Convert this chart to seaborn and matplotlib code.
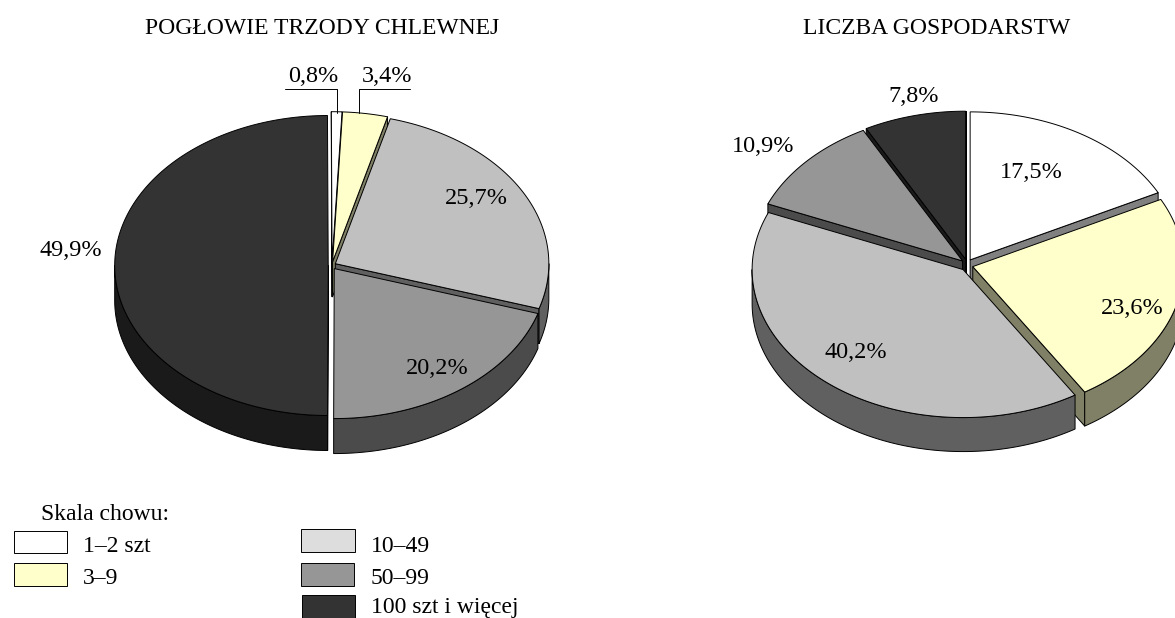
import numpy as np
import seaborn as sns
import matplotlib.pyplot as plt
from matplotlib.patches import Polygon, Rectangle

# data
scale_labels = ["1–2 szt", "3–9", "10–49", "50–99", "100 szt i więcej"]
herd_share = [0.8, 3.4, 25.7, 20.2, 49.9]
farm_share = [17.5, 23.6, 40.2, 10.9, 7.8]
herd_title = "POGŁOWIE TRZODY CHLEWNEJ"
farm_title = "LICZBA GOSPODARSTW"
legend_title = "Skala chowu:"

top_colors = ["#ffffff", "#ffffcc", "#c0c0c0", "#969696", "#333333"]
side_colors = ["#808080", "#808066", "#606060", "#4b4b4b", "#1a1a1a"]
legend_colors = ["#ffffff", "#ffffcc", "#dddddd", "#969696", "#333333"]

sns.set_theme(style="white")
plt.rcParams["font.family"] = ["Liberation Serif", "DejaVu Serif"]
FONT = 17
LABEL_FONT = 17.5


def pie_3d(ax, values, cx, cy, rx, ry, depth, explode, start=0.0):
    edges = np.cumsum([0] + list(values)) / sum(values) * 2 * np.pi + np.radians(start)
    mids = (edges[:-1] + edges[1:]) / 2
    # back slices first, so the front ones paint over their walls
    order = np.argsort(-np.cos(mids))
    for i in order:
        a0, a1 = edges[i], edges[i + 1]
        ox = cx + explode * np.sin(mids[i])
        oy = cy - explode * np.cos(mids[i])

        def point(a):
            return ox + rx * np.sin(a), oy - ry * np.cos(a)

        def wall(a):
            x, y = point(a)
            return [(ox, oy), (x, y), (x, y + depth), (ox, oy + depth)]

        style = dict(ec="black", lw=0.7, fc=side_colors[i], joinstyle="round")
        if np.sin(a0) < 0:
            ax.add_patch(Polygon(wall(a0), **style))
        if np.sin(a1) > 0:
            ax.add_patch(Polygon(wall(a1), **style))
        lo, hi = max(a0, np.pi / 2), min(a1, 3 * np.pi / 2)
        if lo < hi:
            arc = np.linspace(lo, hi, 120)
            xs, ys = point(arc)
            rim = np.r_[np.c_[xs, ys], np.c_[xs, ys + depth][::-1]]
            ax.add_patch(Polygon(rim, **style))
        arc = np.linspace(a0, a1, 240)
        xs, ys = point(arc)
        top = np.r_[[(ox, oy)], np.c_[xs, ys]]
        ax.add_patch(Polygon(top, ec="black", lw=0.7, fc=top_colors[i]))


def pct(v):
    return f"{v:.1f}%".replace(".", ",")


fig = plt.figure(figsize=(11.75, 6.18), dpi=100)
ax = fig.add_axes([0, 0, 1, 1])
ax.set_xlim(0, 1175)
ax.set_ylim(618, 0)
ax.axis("off")

pie_3d(ax, herd_share, 332, 265.5, 213.5, 150, 35, 3.8, start=-0.2)
pie_3d(ax, farm_share, 967, 265, 211, 148, 34, 6)

ax.text(322, 29, herd_title, ha="center", va="center", fontsize=FONT, color="black")
ax.text(937, 29, farm_title, ha="center", va="center", fontsize=FONT, color="black")

herd_pos = [(313, 77), (387, 77), (476, 199), (437, 368), (71, 250)]
farm_pos = [(1031, 172), (1132, 309), (856, 353), (763, 147), (914, 97)]
for vals, pos in [(herd_share, herd_pos), (farm_share, farm_pos)]:
    for v, (x, y) in zip(vals, pos):
        ax.text(x, y, pct(v), ha="center", va="center", fontsize=LABEL_FONT, color="black")

# leader lines of the two thin slices
ax.plot([285, 337, 337], [89, 89, 113], color="black", lw=0.7)
ax.plot([410, 359, 359], [89, 89, 113], color="black", lw=0.7)

# legend
ax.text(41, 514, legend_title, va="center", fontsize=FONT, color="black")
boxes = [(14, 531, 53, 22), (14, 563, 53, 23), (301, 529, 54, 23), (301, 563, 53, 23), (302, 595, 53, 23)]
text_pos = [(83, 546), (83, 578), (371, 546), (371, 578), (371, 607)]
for label, c, (x, y, w, h), (tx, ty) in zip(scale_labels, legend_colors, boxes, text_pos):
    ax.add_patch(Rectangle((x, y), w, h, fc=c, ec="black", lw=0.7))
    ax.text(tx, ty, label, va="center", fontsize=FONT, color="black")

fig.savefig("out.png", dpi=100)
